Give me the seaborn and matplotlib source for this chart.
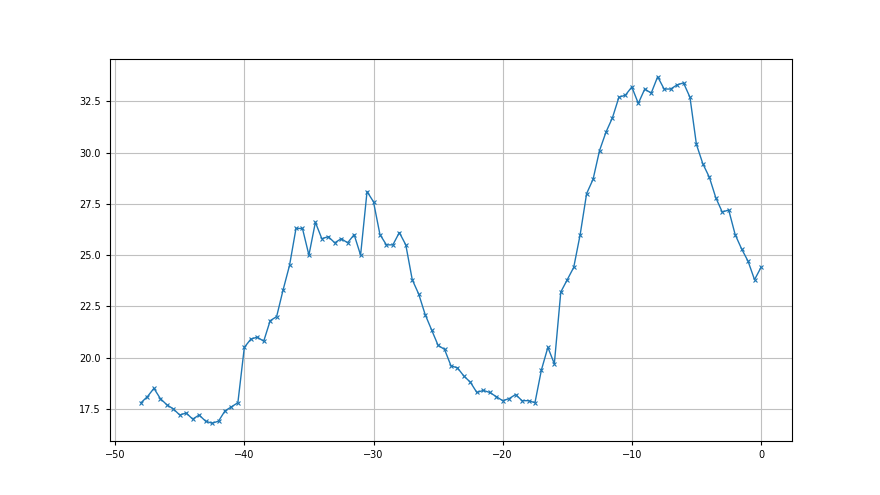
import matplotlib
matplotlib.use("Agg")
import matplotlib.pyplot as plt
import seaborn as sns
import pandas as pd

# sample positions (half-unit steps from -48 to 0)
x_vals = [-48.0, -47.5, -47.0, -46.5, -46.0, -45.5, -45.0, -44.5, -44.0, -43.5,
          -43.0, -42.5, -42.0, -41.5, -41.0, -40.5, -40.0, -39.5, -39.0, -38.5,
          -38.0, -37.5, -37.0, -36.5, -36.0, -35.5, -35.0, -34.5, -34.0, -33.5,
          -33.0, -32.5, -32.0, -31.5, -31.0, -30.5, -30.0, -29.5, -29.0, -28.5,
          -28.0, -27.5, -27.0, -26.5, -26.0, -25.5, -25.0, -24.5, -24.0, -23.5,
          -23.0, -22.5, -22.0, -21.5, -21.0, -20.5, -20.0, -19.5, -19.0, -18.5,
          -18.0, -17.5, -17.0, -16.5, -16.0, -15.5, -15.0, -14.5, -14.0, -13.5,
          -13.0, -12.5, -12.0, -11.5, -11.0, -10.5, -10.0, -9.5, -9.0, -8.5,
          -8.0, -7.5, -7.0, -6.5, -6.0, -5.5, -5.0, -4.5, -4.0, -3.5,
          -3.0, -2.5, -2.0, -1.5, -1.0, -0.5, 0.0]

# values
y_vals = [17.8, 18.1, 18.5, 18.0, 17.7, 17.5, 17.2, 17.3, 17.0, 17.2,
          16.9, 16.8, 16.9, 17.4, 17.6, 17.8, 20.5, 20.9, 21.0, 20.8,
          21.8, 22.0, 23.3, 24.5, 26.3, 26.3, 25.0, 26.6, 25.8, 25.9,
          25.6, 25.8, 25.6, 26.0, 25.0, 28.1, 27.6, 26.0, 25.5, 25.5,
          26.1, 25.5, 23.8, 23.1, 22.1, 21.35, 20.6, 20.4, 19.6, 19.5,
          19.1, 18.8, 18.3, 18.4, 18.3, 18.1, 17.9, 18.0, 18.2, 17.9,
          17.9, 17.8, 19.4, 20.5, 19.7, 23.2, 23.8, 24.4, 26.0, 28.0,
          28.7, 30.1, 31.0, 31.7, 32.7, 32.8, 33.2, 32.4, 33.1, 32.9,
          33.7, 33.1, 33.1, 33.3, 33.4, 32.7, 30.4, 29.45, 28.8, 27.8,
          27.1, 27.2, 26.0, 25.3, 24.7, 23.8, 24.4]

df = pd.DataFrame({"x": x_vals, "y": y_vals})

fig, ax = plt.subplots(figsize=(8.8, 4.95), dpi=100)
sns.lineplot(data=df, x="x", y="y", ax=ax, marker="x", markersize=3.5,
             markeredgewidth=0.8, markeredgecolor="#1f77b4",
             linewidth=1.0, color="#1f77b4")

ax.grid(True, color="#c0c0c0", linewidth=0.8)
ax.set_axisbelow(True)
ax.set_xlabel("")
ax.set_ylabel("")
ax.tick_params(labelsize=7, length=3)

fig.savefig("out.png", dpi=100)
